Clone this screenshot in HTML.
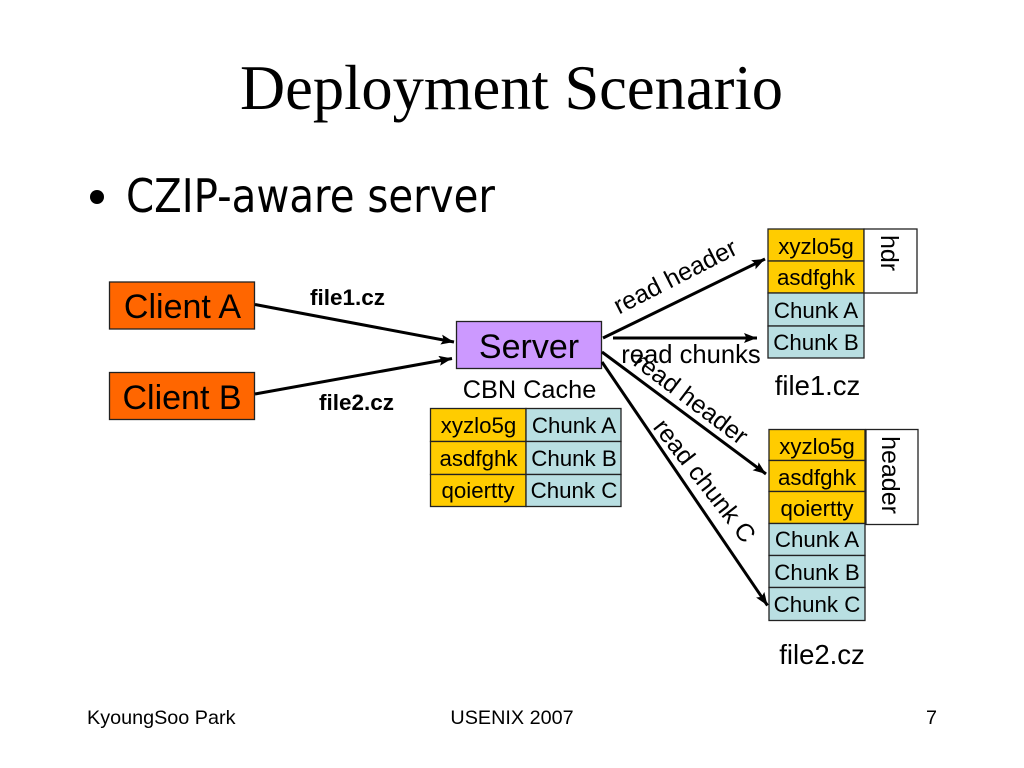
<!DOCTYPE html>
<html><head><meta charset="utf-8"><style>
html,body{margin:0;padding:0;background:#fff}
svg{display:block}
text{font-family:"Liberation Sans",sans-serif;fill:#000}
.c{text-anchor:middle}
</style></head><body>
<svg width="1024" height="768" viewBox="0 0 1024 768" xmlns="http://www.w3.org/2000/svg">
<defs><marker id="a" markerUnits="userSpaceOnUse" markerWidth="14" markerHeight="12" refX="13" refY="5" orient="auto"><path d="M0 0L13 5L0 10L2.500 5Z" fill="#000"/></marker></defs>
<text x="240" y="109" font-size="64" textLength="543" lengthAdjust="spacingAndGlyphs" style="font-family:'Liberation Serif',serif">Deployment Scenario</text>
<circle cx="97" cy="197" r="7" fill="#000"/>
<text x="126" y="212" font-size="46" textLength="369" lengthAdjust="spacingAndGlyphs" style="font-family:'DejaVu Sans',sans-serif">CZIP-aware server</text>

<g stroke="#222" stroke-width="1.300">
<rect x="109.500" y="282" width="145" height="47" fill="#ff6600"/>
<rect x="109.500" y="372.500" width="145" height="47" fill="#ff6600"/>
<rect x="456.500" y="321.500" width="145" height="47" fill="#cc99ff"/>
<rect x="430.500" y="408.500" width="95.500" height="33" fill="#ffcc00"/>
<rect x="430.500" y="441.500" width="95.500" height="33" fill="#ffcc00"/>
<rect x="430.500" y="474.500" width="95.500" height="32" fill="#ffcc00"/>
<rect x="526" y="408.500" width="95" height="33" fill="#b9dfe2"/>
<rect x="526" y="441.500" width="95" height="33" fill="#b9dfe2"/>
<rect x="526" y="474.500" width="95" height="32" fill="#b9dfe2"/>
<rect x="768" y="229" width="96" height="32" fill="#ffcc00"/>
<rect x="768" y="261" width="96" height="32" fill="#ffcc00"/>
<rect x="768" y="293" width="96" height="33" fill="#b9dfe2"/>
<rect x="768" y="326" width="96" height="32" fill="#b9dfe2"/>
<rect x="864" y="229" width="53" height="64" fill="#fff"/>
<rect x="769" y="429.500" width="96" height="31" fill="#ffcc00"/>
<rect x="769" y="460.500" width="96" height="31" fill="#ffcc00"/>
<rect x="769" y="491.500" width="96" height="32" fill="#ffcc00"/>
<rect x="769" y="523.500" width="96" height="32" fill="#b9dfe2"/>
<rect x="769" y="555.500" width="96" height="32" fill="#b9dfe2"/>
<rect x="769" y="587.500" width="96" height="33" fill="#b9dfe2"/>
<rect x="866" y="429.500" width="52" height="95" fill="#fff"/>
</g>

<g stroke="#000" stroke-width="3" fill="none">
<line x1="255" y1="304.500" x2="454" y2="342" marker-end="url(#a)"/>
<line x1="255" y1="394" x2="452" y2="358.500" marker-end="url(#a)"/>
<line x1="603" y1="338" x2="765" y2="259" marker-end="url(#a)"/>
<line x1="613" y1="338" x2="757" y2="338" marker-end="url(#a)"/>
<line x1="602" y1="352" x2="766" y2="474" marker-end="url(#a)"/>
<line x1="602" y1="362" x2="767.500" y2="605.500" marker-end="url(#a)"/>
</g>

<text class="c" x="182.500" y="318" font-size="34">Client A</text>
<text class="c" x="182" y="409" font-size="34">Client B</text>
<text class="c" x="529" y="358" font-size="34">Server</text>
<text class="c" x="529.500" y="398" font-size="25.300">CBN Cache</text>
<text class="c" x="347.500" y="305" font-size="22.500" font-weight="bold">file1.cz</text>
<text class="c" x="356.500" y="410" font-size="22.500" font-weight="bold">file2.cz</text>

<g font-size="22.300">
<text class="c" x="478.500" y="433">xyzlo5g</text>
<text class="c" x="478.500" y="466">asdfghk</text>
<text class="c" x="478" y="498">qoiertty</text>
<text class="c" x="574" y="433">Chunk A</text>
<text class="c" x="574" y="466">Chunk B</text>
<text class="c" x="574" y="498">Chunk C</text>
<text class="c" x="816" y="254">xyzlo5g</text>
<text class="c" x="816" y="285">asdfghk</text>
<text class="c" x="816" y="318">Chunk A</text>
<text class="c" x="816" y="350">Chunk B</text>
<text class="c" x="817" y="454">xyzlo5g</text>
<text class="c" x="817" y="485">asdfghk</text>
<text class="c" x="817" y="516">qoiertty</text>
<text class="c" x="817" y="547">Chunk A</text>
<text class="c" x="817" y="580">Chunk B</text>
<text class="c" x="817" y="612">Chunk C</text>
</g>

<text class="c" x="817.500" y="395" font-size="27.500">file1.cz</text>
<text class="c" x="822" y="664" font-size="27.500">file2.cz</text>

<text transform="translate(679 284) rotate(-27)" class="c" font-size="25">read header</text>
<text class="c" x="691" y="363" font-size="25.600">read chunks</text>
<text transform="translate(686 405) rotate(37)" class="c" font-size="25">read header</text>
<text transform="translate(698 486) rotate(52)" class="c" font-size="25">read chunk C</text>
<text transform="translate(881 253) rotate(90)" class="c" font-size="25">hdr</text>
<text transform="translate(882 475) rotate(90)" class="c" font-size="25">header</text>

<text x="87" y="724" font-size="19.800">KyoungSoo Park</text>
<text class="c" x="512" y="724" font-size="19.800">USENIX 2007</text>
<text x="926" y="724" font-size="19.800">7</text>
</svg>
</body></html>
